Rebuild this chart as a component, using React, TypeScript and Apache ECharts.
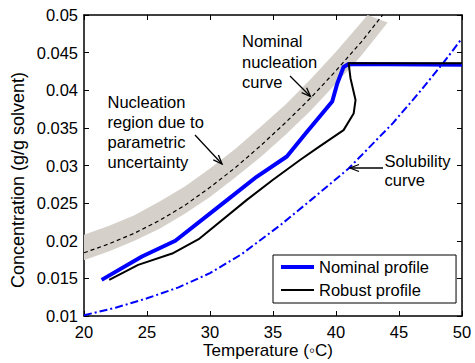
import React, { useEffect, useRef } from "react";
import * as echarts from "echarts";

// ---- axis ticks ----
const xTicks = { min: 20, max: 50, step: 5 };
const yTicks = { min: 0.01, max: 0.05, step: 0.005 };

// ---- Nominal nucleation curve (dashed) ----
const nucX = [20, 22, 24, 26, 28, 30, 32, 34, 36, 38, 40, 42, 43.7];
const nucY = [0.0184, 0.0196, 0.021, 0.0227, 0.0247, 0.0271, 0.0297, 0.0326, 0.0357, 0.039, 0.0426, 0.0464, 0.05];

// ---- Nucleation region due to parametric uncertainty (grey band: upper / lower bounds) ----
const bandUpperX = [20, 22, 24, 26, 28, 30, 32, 34, 36, 38, 40, 42, 42.5];
const bandUpperY = [0.0208, 0.022, 0.0234, 0.0252, 0.0272, 0.0296, 0.0322, 0.0351, 0.0381, 0.0415, 0.0451, 0.049, 0.05];
const bandLowerX = [20, 22, 24, 26, 28, 30, 32, 34, 36, 38, 40, 42, 44.1];
const bandLowerY = [0.0174, 0.0186, 0.02, 0.0216, 0.0236, 0.0258, 0.0284, 0.0311, 0.0341, 0.0373, 0.0409, 0.0446, 0.049];

// ---- Solubility curve (dash-dot) ----
const solX = [20, 22.5, 25, 27.5, 30, 32.5, 35.6, 38, 41, 44.5, 46.5, 48.5, 50];
const solY = [0.0101, 0.0111, 0.01235, 0.0138, 0.0157, 0.0182, 0.0221, 0.0254, 0.0296, 0.0356, 0.0395, 0.0436, 0.0469];

// ---- Nominal profile ----
const nominalX = [21.4, 24.6, 27.25, 31.35, 33.7, 36.1, 37.7, 39.7, 40.1, 40.6, 41.0, 50];
const nominalY = [0.0148, 0.0179, 0.02, 0.0254, 0.0285, 0.0312, 0.0345, 0.0385, 0.0409, 0.0431, 0.0435, 0.0434];

// ---- Robust profile ----
const robustX = [22.0, 24.3, 27.0, 29.1, 32.9, 35.0, 37.2, 38.5, 40.6, 41.4, 41.55, 41.15, 41.0, 50];
const robustY = [0.0148, 0.0168, 0.0183, 0.0202, 0.0254, 0.0281, 0.0308, 0.0323, 0.0347, 0.0369, 0.0387, 0.0416, 0.0436, 0.0436];

const seriesNames = ["Nominal profile", "Robust profile"];

const FONT = "'Liberation Sans', Arial, Helvetica, sans-serif";

const zip = (xs: number[], ys: number[]) => xs.map((x, i) => [x, ys[i]]);

function arrow(x0: number, y0: number, x1: number, y1: number) {
  const dx = x1 - x0;
  const dy = y1 - y0;
  const L = Math.hypot(dx, dy);
  const ux = dx / L;
  const uy = dy / L;
  const hl = 9;
  const hw = 3.5;
  const bx = x1 - ux * hl;
  const by = y1 - uy * hl;
  return [
    {
      type: "line",
      shape: { x1: x0, y1: y0, x2: x1, y2: y1 },
      style: { stroke: "#000", lineWidth: 1.3 },
      z: 100,
    },
    {
      type: "polyline",
      shape: {
        points: [
          [bx - uy * hw, by + ux * hw],
          [x1, y1],
          [bx + uy * hw, by - ux * hw],
        ],
      },
      style: { stroke: "#000", lineWidth: 1.3, fill: "none" },
      z: 100,
    },
  ];
}

export default function App() {
  const ref = useRef<HTMLDivElement>(null);

  useEffect(() => {
    if (!ref.current) return;
    const chart = echarts.init(ref.current, undefined, { renderer: "svg" });

    const axisLine = { show: true, onZero: false, lineStyle: { color: "#000", width: 1.5 } };
    const axisTick = { show: true, inside: true, length: 5, lineStyle: { color: "#000", width: 1 } };
    const labelStyle = { color: "#000", fontSize: 16.5, fontFamily: FONT };

    const upperPts = zip(bandUpperX, bandUpperY);
    const lowerPts = zip(bandLowerX, bandLowerY);

    const option: any = {
      animation: false,
      backgroundColor: "#fff",
      grid: { left: 84, right: 13, top: 15, bottom: 47, containLabel: false },
      xAxis: [
        {
          type: "value",
          min: xTicks.min,
          max: xTicks.max,
          interval: xTicks.step,
          position: "bottom",
          axisLine,
          axisTick,
          axisLabel: { ...labelStyle, margin: 7 },
          splitLine: { show: false },
        },
        {
          type: "value",
          min: xTicks.min,
          max: xTicks.max,
          interval: xTicks.step,
          position: "top",
          axisLine,
          axisTick,
          axisLabel: { show: false },
          splitLine: { show: false },
        },
      ],
      yAxis: [
        {
          type: "value",
          min: yTicks.min,
          max: yTicks.max,
          interval: yTicks.step,
          position: "left",
          axisLine,
          axisTick,
          axisLabel: { ...labelStyle, margin: 6 },
          splitLine: { show: false },
        },
        {
          type: "value",
          min: yTicks.min,
          max: yTicks.max,
          interval: yTicks.step,
          position: "right",
          axisLine,
          axisTick,
          axisLabel: { show: false },
          splitLine: { show: false },
        },
      ],
      legend: {
        data: [
          {
            name: seriesNames[0],
            icon: "path://M0,0L33,0L33,4L0,4Z",
            itemStyle: { color: "#0000ff", borderWidth: 0 },
          },
          {
            name: seriesNames[1],
            icon: "path://M0,0L33,0L33,2L0,2Z",
            itemStyle: { color: "#000000", borderWidth: 0 },
          },
        ],
        orient: "vertical",
        left: 273,
        top: 255,
        itemWidth: 33,
        itemHeight: 14,
        itemGap: 6,
        padding: [3.5, 27, 4.5, 8],
        borderColor: "#000",
        borderWidth: 1,
        backgroundColor: "#fff",
        selectedMode: false,
        textStyle: { fontSize: 16.5, color: "#000", fontFamily: FONT },
      },
      series: [
        {
          name: "Nucleation region",
          type: "custom",
          data: [upperPts[0]],
          silent: true,
          z: 1,
          renderItem: (_params: any, api: any) => {
            const pts = [
              ...upperPts.map((p) => api.coord(p)),
              ...lowerPts
                .slice()
                .reverse()
                .map((p) => api.coord(p)),
            ];
            return {
              type: "polygon",
              shape: { points: pts },
              style: { fill: "#d5d1ca", stroke: "none" },
            };
          },
        },
        {
          name: "Nominal nucleation curve",
          type: "line",
          data: zip(nucX, nucY),
          symbol: "none",
          clip: true,
          lineStyle: { color: "#000", width: 1.2, type: [4, 3] },
          z: 2,
        },
        {
          name: "Solubility curve",
          type: "line",
          data: zip(solX, solY),
          symbol: "none",
          clip: true,
          lineStyle: { color: "#0000ff", width: 2, type: [8, 3, 2, 3] },
          z: 3,
        },
        {
          name: seriesNames[0],
          type: "line",
          data: zip(nominalX, nominalY),
          symbol: "none",
          clip: true,
          color: "#0000ff",
          lineStyle: { color: "#0000ff", width: 4, join: "round" },
          z: 4,
        },
        {
          name: seriesNames[1],
          type: "line",
          data: zip(robustX, robustY),
          symbol: "none",
          clip: true,
          color: "#000000",
          lineStyle: { color: "#000000", width: 2, join: "round" },
          z: 5,
        },
      ],
      graphic: [
        {
          type: "text",
          x: 18,
          y: 180,
          rotation: Math.PI / 2,
          style: {
            text: "Concentration (g/g solvent)",
            fill: "#000",
            fontSize: 18,
            fontFamily: FONT,
            align: "center",
            verticalAlign: "middle",
          },
        },
        {
          type: "text",
          x: 268,
          y: 350,
          style: {
            text: "Temperature (\u25E6C)",
            fill: "#000",
            fontSize: 17,
            fontFamily: FONT,
            align: "center",
            verticalAlign: "middle",
          },
        },
        {
          type: "text",
          x: 107.5,
          y: 92,
          z: 100,
          style: {
            text: "Nucleation\nregion due to\nparametric\nuncertainty",
            fill: "#000",
            fontSize: 16.5,
            lineHeight: 20,
            fontFamily: FONT,
            align: "left",
            verticalAlign: "top",
          },
        },
        {
          type: "text",
          x: 242,
          y: 30.75,
          z: 100,
          style: {
            text: "Nominal\nnucleation\ncurve",
            fill: "#000",
            fontSize: 16.5,
            lineHeight: 20.5,
            fontFamily: FONT,
            align: "left",
            verticalAlign: "top",
          },
        },
        {
          type: "text",
          x: 384.5,
          y: 151,
          z: 100,
          style: {
            text: "Solubility\ncurve",
            fill: "#000",
            fontSize: 16.5,
            lineHeight: 19,
            fontFamily: FONT,
            align: "left",
            verticalAlign: "top",
          },
        },
        ...arrow(195, 135, 222, 164),
        ...arrow(290, 76, 310.5, 96.5),
        ...arrow(383, 168, 350, 168),
      ],
    };

    chart.setOption(option);
    return () => chart.dispose();
  }, []);

  return (
    <div
      ref={ref}
      style={{ position: "absolute", left: 0, top: 0, width: 475, height: 363, background: "#fff" }}
    />
  );
}
